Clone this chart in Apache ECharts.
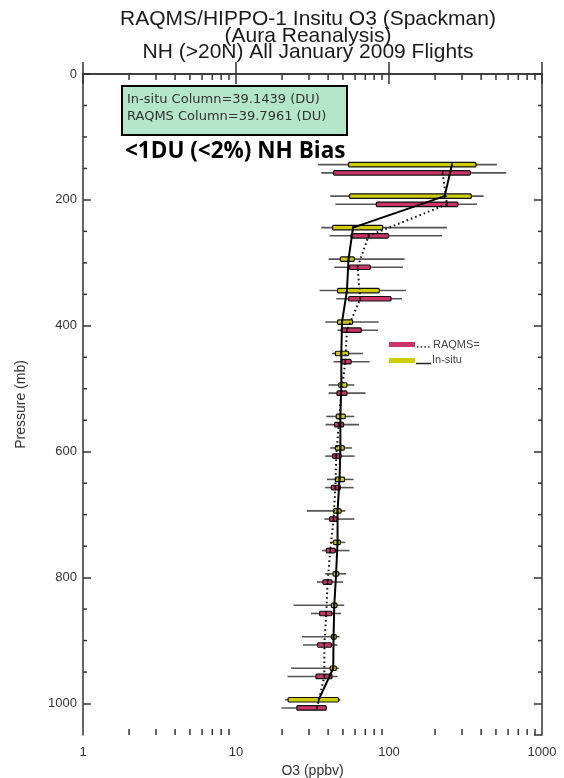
<!DOCTYPE html>
<html><head><meta charset="utf-8">
<script src="https://cdn.jsdelivr.net/npm/echarts@6/dist/echarts.min.js"></script>
<style>html,body{margin:0;padding:0;background:#fff}#c{width:564px;height:778px}</style>
</head><body><div id="c"></div>
<script>
// ---- data ----
const levels = [150,200,250,300,350,400,450,500,550,600,650,700,750,800,850,900,950,1000];

const insituLow  = [34.4,41.3,36.1,40.3,35.2,38.3,42.4,40.3,38.9,41.3,39.3,29.1,41.3,38.3,23.8,27.0,22.9,21.0];
const insituQ1   = [54.4,55.2,42.8,48.1,46.1,46.1,44.6,46.9,45.2,44.6,44.6,43.4,43.4,43.1,42.0,42.0,41.3,21.9];
const insituMed  = [258,231,58.2,54.4,53.1,49.3,48.8,48.8,48.1,48.1,47.5,46.1,46.1,45.1,43.9,43.4,43.2,34.7];
const insituQ3   = [370,345,90.8,59.3,86.4,57.8,54.4,53.1,51.8,51.0,51.2,48.6,48.1,46.9,45.7,45.2,45.2,46.9];
const insituHigh = [508,415,239,126.5,129,85.5,67.6,59.3,59.3,57.3,58.7,51.8,51.8,52.4,51.0,47.5,46.9,48.1];

const raqmsLow  = [36.1,44.6,40.9,43.9,45.2,46.1,43.4,40.3,38.5,38.3,38.3,37.8,36.5,33.8,30.9,27.4,21.7,19.8];
const raqmsQ1   = [43.4,82.6,56.5,55.2,54.4,48.8,48.8,45.7,44.1,42.8,42.0,40.9,38.9,37.0,35.2,34.1,33.3,25.0];
const raqmsMed  = [224,239,73.6,62.3,64.9,53.1,51.8,48.8,46.9,45.2,44.6,43.4,41.3,39.7,38.9,37.8,37.8,33.8];
const raqmsQ3   = [340,282,99.4,75.5,103,65.9,56.5,53.1,50.5,48.6,48.1,46.1,44.6,42.4,42.4,42.0,42.4,38.9];
const raqmsHigh = [584,376,222,123.5,121.6,84.7,74.7,70.3,63.7,59.6,58.7,59.3,55.2,50.0,48.6,46.1,46.1,39.3];

const xMinorTicks = [2,3,4,5,6,7,8,9,20,30,40,50,60,70,80,90,200,300,400,500,600,700,800,900];
const yMinorTicks = [50,100,150,250,300,350,450,500,550,650,700,750,850,900,950];
const titleLines = ['RAQMS/HIPPO-1 Insitu O3 (Spackman)','(Aura Reanalysis)','NH (>20N) All January 2009 Flights'];
const insituColumn = '39.1439';
const raqmsColumn = '39.7961';
const biasText = '<1DU (<2%) NH Bias';

// ---- styling constants ----
const INSITU_DP = -6, RAQMS_DP = 7;   // pair offset around each level (mb)
const YELLOW = '#cccc00', PINK = '#cc3366';
const AXIS = '#333';

function boxData(low,q1,med,q3,high,dp){
  return levels.map((p,i)=>[p+dp, low[i], q1[i], med[i], q3[i], high[i]]);
}
function makeBoxRender(color){
  return function(params, api){
    const p = api.value(0);
    const y = api.coord([1, p])[1];
    const xs = [1,2,3,4,5].map(k => api.coord([api.value(k), p])[0]);
    const h = 4.5;
    return {type:'group', children:[
      {type:'line', shape:{x1:xs[0],y1:y,x2:xs[4],y2:y}, style:{stroke:'#555',lineWidth:1.6}},
      {type:'rect', shape:{x:xs[1],y:y-h/2,width:Math.max(xs[3]-xs[1],1),height:h,r:1},
        style:{fill:color,stroke:'#111',lineWidth:1.2}},
      {type:'line', shape:{x1:xs[2],y1:y-h/2,x2:xs[2],y2:y+h/2}, style:{stroke:'#111',lineWidth:1.5}}
    ]};
  };
}

const chart = echarts.init(document.getElementById('c'), null, {renderer:'canvas'});
const labelFont = {fontFamily:'Liberation Sans', fontSize:13, color:AXIS};
const axisLineStyle = {color:AXIS, width:1.5};

chart.setOption({
  animation:false,
  backgroundColor:'#fff',
  grid:{left:83, right:22, top:74, bottom:43, containLabel:false, outerBoundsMode:'none'},
  xAxis:[
    {type:'log', logBase:10, min:1, max:1000, position:'bottom',
     axisLine:{show:true, lineStyle:axisLineStyle},
     axisTick:{show:true, inside:true, length:12, lineStyle:axisLineStyle},
     axisLabel:Object.assign({margin:11, formatter:v => String(Math.round(v))}, labelFont),
     splitLine:{show:false}, minorTick:{show:false},
     name:'O3 (ppbv)', nameLocation:'middle', nameGap:28,
     nameTextStyle:{fontFamily:'Liberation Sans', fontSize:14, color:AXIS}},
    {type:'log', logBase:10, min:1, max:1000, position:'top',
     axisLine:{show:true, lineStyle:axisLineStyle},
     axisTick:{show:true, inside:true, length:10, lineStyle:axisLineStyle},
     axisLabel:{show:false}, splitLine:{show:false}}
  ],
  yAxis:[
    {type:'value', inverse:true, min:0, max:1050, interval:200, position:'left',
     axisLine:{show:true, lineStyle:axisLineStyle},
     axisTick:{show:true, inside:true, length:8, lineStyle:axisLineStyle},
     axisLabel:Object.assign({margin:6, showMaxLabel:false,
        formatter:v => (v % 200 === 0 ? String(v) : '')}, labelFont),
     splitLine:{show:false},
     name:'Pressure (mb)', nameLocation:'middle', nameGap:55, nameRotate:90,
     nameTextStyle:{fontFamily:'Liberation Sans', fontSize:14, color:AXIS}},
    {type:'value', inverse:true, min:0, max:1050, interval:200, position:'right',
     axisLine:{show:true, lineStyle:axisLineStyle},
     axisTick:{show:true, inside:true, length:8, lineStyle:axisLineStyle},
     axisLabel:{show:false}, splitLine:{show:false}}
  ],
  series:[
    {type:'custom', name:'xminor', silent:true, xAxisIndex:0, yAxisIndex:0,
     data:xMinorTicks.map(v=>[v, 500]),
     renderItem:function(params, api){
       const x = api.coord([api.value(0), 500])[0];
       const r = params.coordSys;
       return {type:'group', children:[
         {type:'line', shape:{x1:x,y1:r.y+r.height,x2:x,y2:r.y+r.height-6}, style:{stroke:AXIS,lineWidth:1.5}},
         {type:'line', shape:{x1:x,y1:r.y,x2:x,y2:r.y+6}, style:{stroke:AXIS,lineWidth:1.5}}
       ]};
     }},
    {type:'custom', name:'yminor', silent:true, xAxisIndex:0, yAxisIndex:0,
     data:yMinorTicks.map(v=>[10, v]),
     renderItem:function(params, api){
       const y = api.coord([10, api.value(1)])[1];
       const r = params.coordSys;
       return {type:'group', children:[
         {type:'line', shape:{x1:r.x,y1:y,x2:r.x+4,y2:y}, style:{stroke:AXIS,lineWidth:1.5}},
         {type:'line', shape:{x1:r.x+r.width,y1:y,x2:r.x+r.width-4,y2:y}, style:{stroke:AXIS,lineWidth:1.5}}
       ]};
     }},
    {type:'custom', name:'In-situ', xAxisIndex:0, yAxisIndex:0, z:2,
     data:boxData(insituLow,insituQ1,insituMed,insituQ3,insituHigh,INSITU_DP),
     encode:{y:0, x:[1,2,3,4,5]}, renderItem:makeBoxRender(YELLOW)},
    {type:'custom', name:'RAQMS', xAxisIndex:0, yAxisIndex:0, z:2,
     data:boxData(raqmsLow,raqmsQ1,raqmsMed,raqmsQ3,raqmsHigh,RAQMS_DP),
     encode:{y:0, x:[1,2,3,4,5]}, renderItem:makeBoxRender(PINK)},
    {type:'line', name:'In-situ median', z:5, symbol:'none', silent:true,
     data:levels.map((p,i)=>[insituMed[i], p+INSITU_DP]),
     lineStyle:{color:'#000', width:2}},
    {type:'line', name:'RAQMS median', z:5, symbol:'none', silent:true,
     data:levels.map((p,i)=>[raqmsMed[i], p+RAQMS_DP]),
     lineStyle:{color:'#111', width:2, type:[1.6,3]}}
  ],
  graphic:[
    {type:'text', x:308, y:11, z:10, style:{text:titleLines.join('\n'), textAlign:'center', textVerticalAlign:'top',
      font:'21px "Liberation Sans"', lineHeight:16.5, fill:'#1a1a1a'}},
    {type:'rect', z:10, shape:{x:122, y:86, width:225, height:49},
      style:{fill:'#b4e6c9', stroke:'#000', lineWidth:2}},
    {type:'text', x:127, y:100, z:11, style:{text:'In-situ Column='+insituColumn+' (DU)', textVerticalAlign:'middle',
      font:'13px "DejaVu Sans"', fill:'#333'}},
    {type:'text', x:127, y:116.5, z:11, style:{text:'RAQMS Column='+raqmsColumn+' (DU)', textVerticalAlign:'middle',
      font:'13px "DejaVu Sans"', fill:'#333'}},
    {type:'text', x:125, y:152, z:11, style:{text:biasText, textVerticalAlign:'middle',
      font:'bold 22.5px "Open Sans"', fill:'#000'}},
    // legend
    {type:'rect', z:10, shape:{x:389, y:342, width:26, height:5}, style:{fill:PINK}},
    {type:'line', z:10, shape:{x1:417,y1:347,x2:431,y2:347}, style:{stroke:'#222', lineWidth:1.5, lineDash:[1.5,2.2]}},
    {type:'text', z:10, x:433, y:344.5, style:{text:'RAQMS=', textVerticalAlign:'middle', font:'11px "Liberation Sans"', fill:'#444'}},
    {type:'rect', z:10, shape:{x:389, y:358, width:26, height:5}, style:{fill:YELLOW}},
    {type:'line', z:10, shape:{x1:416,y1:363.5,x2:431,y2:363.5}, style:{stroke:'#222', lineWidth:1.5}},
    {type:'text', z:10, x:432, y:360, style:{text:'In-situ', textVerticalAlign:'middle', font:'11px "Liberation Sans"', fill:'#444'}}
  ]
});
</script></body></html>
